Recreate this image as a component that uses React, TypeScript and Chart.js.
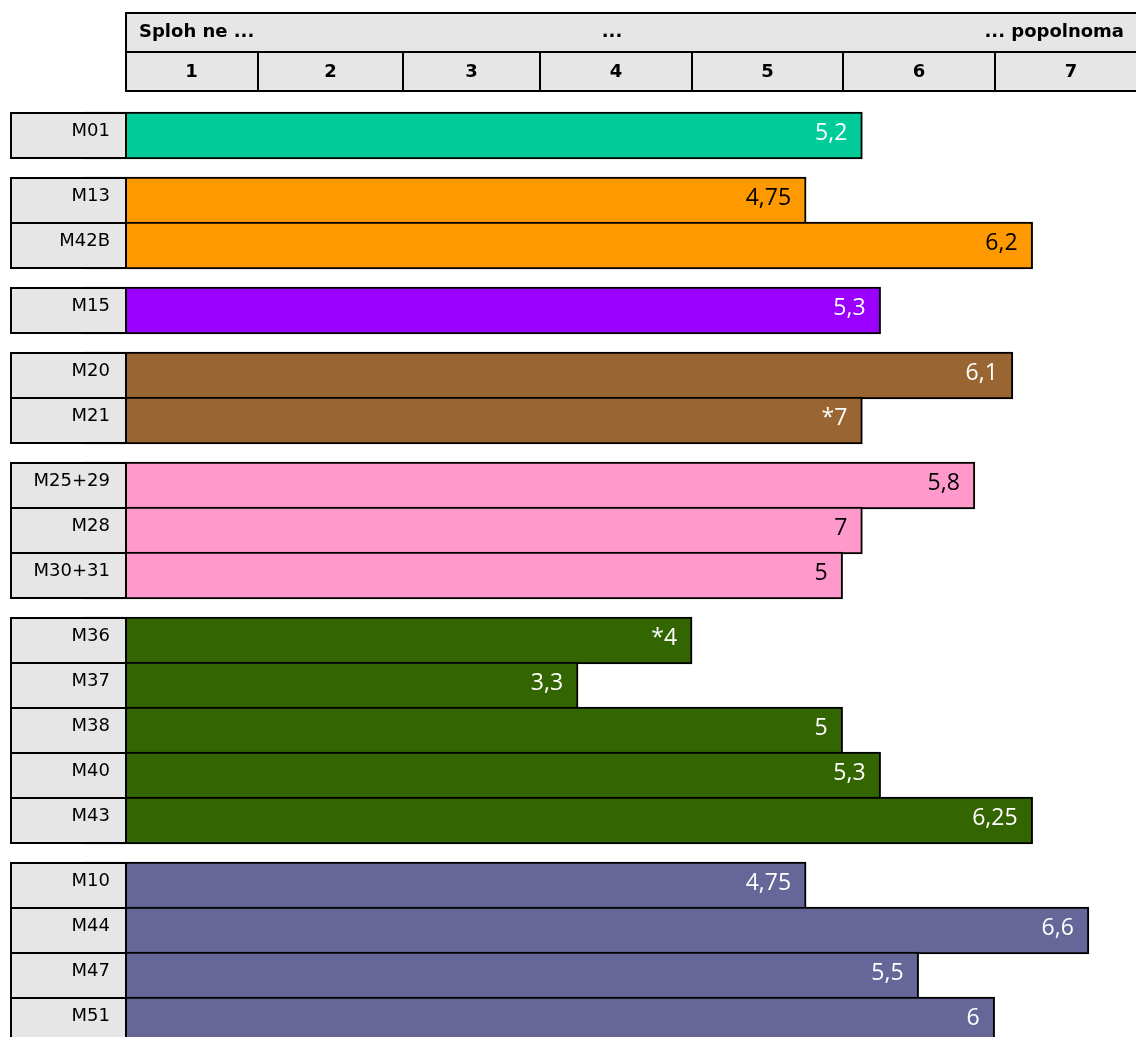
import React, { useEffect, useRef } from "react";
import { Chart, registerables } from "chart.js";

Chart.register(...registerables);

// ---- data ----
const categories = ["M01", "M13", "M42B", "M15", "M20", "M21", "M25+29", "M28", "M30+31", "M36", "M37", "M38", "M40", "M43", "M10", "M44", "M47", "M51"];
const groupOf = [0, 1, 1, 2, 3, 3, 4, 4, 4, 5, 5, 5, 5, 5, 6, 6, 6, 6];
const barValues = [5.13, 4.76, 6.25, 5.25, 6.12, 5.13, 5.87, 5.13, 5.0, 4.01, 3.26, 5.0, 5.25, 6.25, 4.76, 6.62, 5.5, 6.0];
const valueLabels = ["5,2", "4,75", "6,2", "5,3", "6,1", "*7", "5,8", "7", "5", "*4", "3,3", "5", "5,3", "6,25", "4,75", "6,6", "5,5", "6"];
const groupColors = ["#00CC99", "#FF9900", "#9900FF", "#996633", "#FF99CC", "#336600", "#666699"];
const groupTextColors = ["#FFFFFF", "#000000", "#FFFFFF", "#FFFFFF", "#000000", "#FFFFFF", "#FFFFFF"];
const scaleTicks = ["1", "2", "3", "4", "5", "6", "7"];
const headerTitles = ["Sploh ne ...", "...", "... popolnoma"];

// ---- layout ----
const W = 1136;
const H = 1037;
const ROW_PX = 45;
const GAP_PX = 20;
const TOP_PX = 113;
const LEFT_PX = 125;
const CELL_LEFT = 10;
const HEADER_TOP = 12;
const HEADER_ROW = 40;
const HEADER_EDGES = [125, 258, 403, 540, 692, 843, 995, 1147];
const GRAY = "#E6E6E6";

const rowPos = categories.map((_, i) => i + 0.5 + groupOf[i] * (GAP_PX / ROW_PX));

const overlayPlugin = {
  id: "overlay",
  afterDatasetsDraw(chart: any) {
    const ctx = chart.ctx as CanvasRenderingContext2D;
    const meta = chart.getDatasetMeta(0);
    ctx.save();
    // header
    const hb = HEADER_TOP + 2 * HEADER_ROW;
    ctx.fillStyle = GRAY;
    ctx.fillRect(LEFT_PX, HEADER_TOP, W - LEFT_PX + 5, 2 * HEADER_ROW);
    ctx.strokeStyle = "#000";
    ctx.lineWidth = 2;
    ctx.strokeRect(LEFT_PX + 1, HEADER_TOP + 1, W - LEFT_PX + 5, 2 * HEADER_ROW - 2);
    ctx.beginPath();
    ctx.moveTo(LEFT_PX, HEADER_TOP + HEADER_ROW);
    ctx.lineTo(W, HEADER_TOP + HEADER_ROW);
    for (let k = 1; k < HEADER_EDGES.length - 1; k++) {
      ctx.moveTo(HEADER_EDGES[k], HEADER_TOP + HEADER_ROW);
      ctx.lineTo(HEADER_EDGES[k], hb);
    }
    ctx.stroke();
    ctx.fillStyle = "#000";
    ctx.font = "bold 18px 'DejaVu Sans'";
    ctx.textBaseline = "alphabetic";
    const y1 = HEADER_TOP + 25;
    ctx.textAlign = "left";
    ctx.fillText(headerTitles[0], 139, y1);
    ctx.textAlign = "center";
    ctx.fillText(headerTitles[1], 612, y1);
    ctx.textAlign = "right";
    ctx.fillText(headerTitles[2], 1124, y1);
    ctx.textAlign = "center";
    const y2 = HEADER_TOP + HEADER_ROW + 25;
    scaleTicks.forEach((t, k) => {
      const cx = (HEADER_EDGES[k] + HEADER_EDGES[k + 1]) / 2;
      ctx.fillText(t, cx, y2);
    });

    // row label cells and value labels
    meta.data.forEach((el: any, i: number) => {
      const h = el.height;
      const top = el.y - h / 2;
      ctx.fillStyle = GRAY;
      ctx.fillRect(CELL_LEFT, top, LEFT_PX + 2 - CELL_LEFT, h);
      ctx.strokeStyle = "#000";
      ctx.lineWidth = 2;
      ctx.strokeRect(CELL_LEFT + 1, top + 1, LEFT_PX - CELL_LEFT, h - 2);
      ctx.fillStyle = "#000";
      ctx.font = "18px 'DejaVu Sans'";
      ctx.textAlign = "right";
      ctx.textBaseline = "alphabetic";
      ctx.fillText(categories[i], 110, top + 24);

      ctx.fillStyle = groupTextColors[groupOf[i]];
      ctx.font = "23px 'Open Sans'";
      ctx.fillText(valueLabels[i], el.x - 15, top + 28);
    });
    ctx.restore();
  },
};

export default function App() {
  const ref = useRef<HTMLCanvasElement>(null);
  useEffect(() => {
    if (!ref.current) return;
    const chart = new Chart(ref.current, {
      type: "bar",
      data: {
        datasets: [
          {
            data: barValues.map((v, i) => ({ x: v, y: rowPos[i] })) as any,
            backgroundColor: categories.map((_, i) => groupColors[groupOf[i]]),
            borderColor: "#000",
            borderWidth: 2,
            borderSkipped: false,
            barThickness: ROW_PX + 2,
            clip: false as any,
          },
        ],
      },
      plugins: [overlayPlugin],
      options: {
        indexAxis: "y",
        responsive: false,
        animation: false,
        devicePixelRatio: 1,
        layout: { padding: { left: LEFT_PX, top: TOP_PX, right: 0, bottom: 0 } },
        plugins: { legend: { display: false }, tooltip: { enabled: false } },
        scales: {
          x: { type: "linear", min: 0.28, max: 6.93, display: false, offset: false },
          y: { type: "linear", min: 0, max: (H - TOP_PX) / ROW_PX, reverse: true, display: false, offset: false },
        },
      },
    });
    return () => chart.destroy();
  }, []);
  return (
    <div style={{ position: "fixed", left: 0, top: 0, width: W, height: H, background: "#fff" }}>
      <canvas ref={ref} width={W} height={H} style={{ width: W, height: H, display: "block" }} />
    </div>
  );
}
